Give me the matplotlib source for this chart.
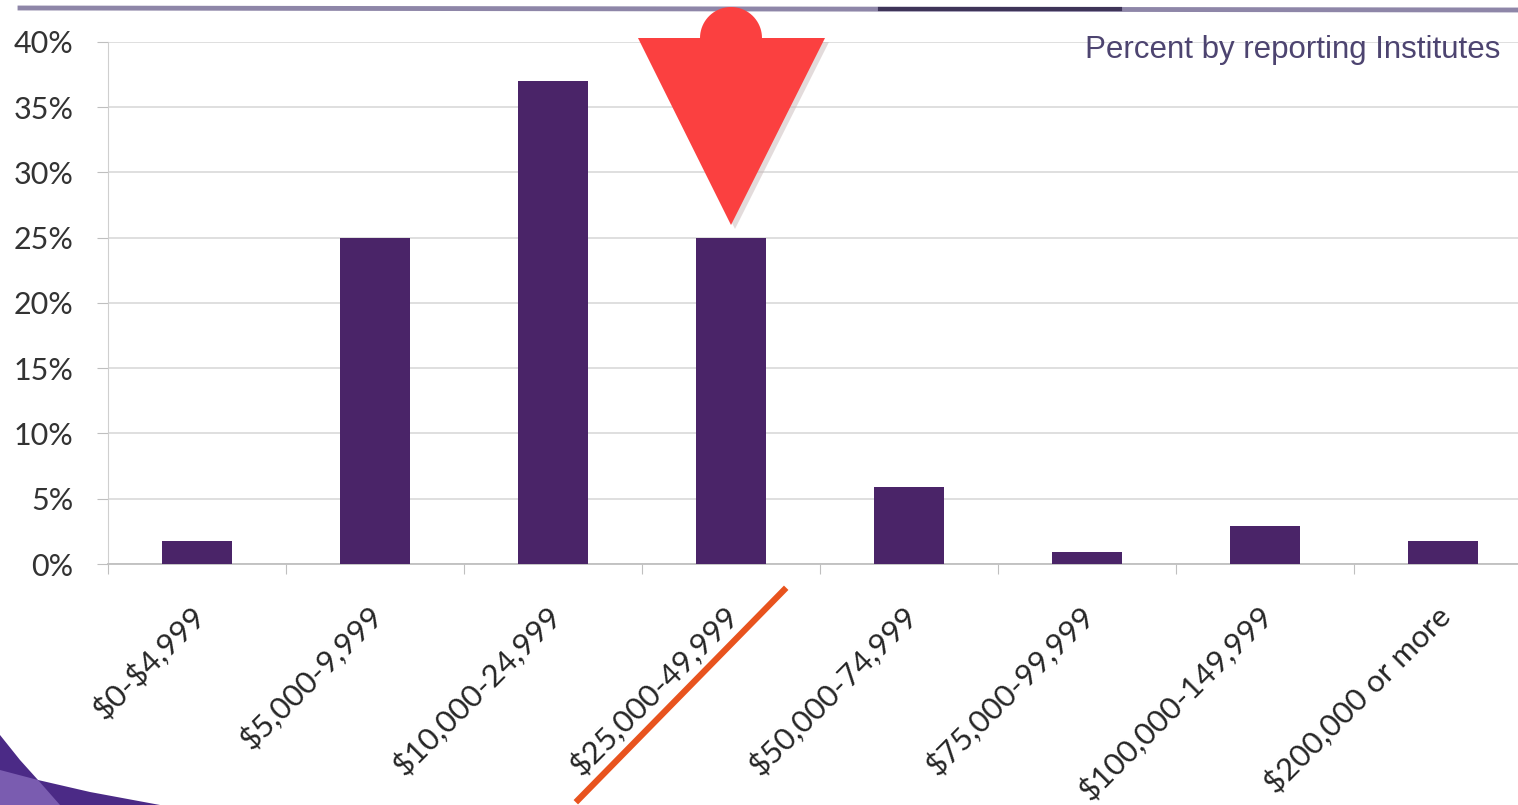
import numpy as np
import matplotlib
matplotlib.use('Agg')
import matplotlib.pyplot as plt
from matplotlib.patches import Polygon
from matplotlib.lines import Line2D
import matplotlib.transforms as mtransforms

# Данные
categories = ['$0-$4,999', '$5,000-9,999', '$10,000-24,999', '$25,000-49,999',
              '$50,000-74,999', '$75,000-99,999', '$100,000-149,999', '$200,000 or more']
percents = [1.8, 25.0, 37.0, 25.0, 5.9, 0.9, 2.9, 1.8]
y_ticks = [0, 5, 10, 15, 20, 25, 30, 35, 40]

W, H = 1518, 805
fig = plt.figure(figsize=(W / 100, H / 100), dpi=100)


def px(x, y):
    """Пиксели (от верхнего левого угла) -> доли фигуры."""
    return x / W, 1 - y / H


# Оси: левый край 108 px, шаг категории 178 px, 0% на 564 px, 40% на 42 px
ax = fig.add_axes([108 / W, (H - 564) / H, 8 * 178 / W, (564 - 42) / H])
x = np.arange(len(categories))
ax.bar(x, percents, width=0.39, color='#4a2468', zorder=3)
ax.set_xlim(-0.5, len(categories) - 0.5)
ax.set_ylim(0, 40)

ax.set_yticks(y_ticks)
ax.set_yticklabels([f'{v}%' for v in y_ticks], fontsize=22, color='#333333',
                   family='Lato')
ax.yaxis.grid(True, color='#d9d9d9', linewidth=1.2, zorder=0)
ax.tick_params(axis='y', length=8, color='#bfbfbf', pad=17)

ax.set_xticks(np.arange(-0.5, len(categories) - 0.5, 1.0))
ax.set_xticklabels([])
ax.tick_params(axis='x', length=7, color='#bfbfbf')
offset = mtransforms.ScaledTranslation(0.03, -0.47, fig.dpi_scale_trans)
for i, lab in enumerate(categories):
    ax.text(i, 0, lab, rotation=45, ha='right', va='center',
            rotation_mode='anchor', fontsize=22.5, color='#262626', family='Lato',
            transform=ax.transData + offset, parse_math=False)

for side in ['top', 'right']:
    ax.spines[side].set_visible(False)
ax.spines['left'].set_color('#cfcfcf')
ax.spines['bottom'].set_color('#bfbfbf')
ax.spines['bottom'].set_linewidth(1.3)

ax.text(px(1500, 0)[0], px(0, 50)[1], 'Percent by reporting Institutes',
        transform=fig.transFigure, ha='right', va='center', fontsize=22.5,
        color='#4d4470', family='Liberation Sans')

# Линия сверху
fig.add_artist(Line2D([px(20, 8)[0], 1], [px(20, 8)[1], px(1518, 10)[1]],
                      transform=fig.transFigure, color='#8e86a8', linewidth=3.5))
fig.add_artist(Line2D([px(880, 9)[0], px(1120, 9)[0]], [px(880, 9)[1], px(1120, 9)[1]],
                      transform=fig.transFigure, color='#3e3458', linewidth=3))

# Красная стрелка (с лёгкой тенью)
for dx, dy, col, z in [(4, 4, '#c9b8b8', 4), (0, 0, '#fb4040', 5)]:
    tri = [px(638 + dx, 38 + dy), px(825 + dx, 38 + dy), px(731 + dx, 225 + dy)]
    fig.add_artist(Polygon(tri, closed=True, transform=fig.transFigure,
                           facecolor=col, edgecolor='none', zorder=z, alpha=1 if z == 5 else 0.5))
fig.add_artist(Polygon([px(731 + 31 * np.cos(t), 38 - 31 * np.sin(t))
                        for t in np.linspace(0, np.pi, 40)],
                       closed=True, transform=fig.transFigure,
                       facecolor='#fb4040', edgecolor='none', zorder=5))

# Оранжевая черта
fig.add_artist(Line2D([px(578, 800)[0], px(784, 590)[0]],
                      [px(578, 800)[1], px(784, 590)[1]],
                      transform=fig.transFigure, color='#e8531e', linewidth=4.5, zorder=6))

# Декоративная фиолетовая волна внизу слева
fig.add_artist(Polygon([px(0, 735), px(20, 760), px(38, 780), px(90, 792),
                        px(160, 805), px(0, 805)],
                       closed=True, transform=fig.transFigure,
                       facecolor='#4b2a86', edgecolor='none'))
fig.add_artist(Polygon([px(0, 770), px(38, 780), px(60, 805), px(0, 805)],
                       closed=True, transform=fig.transFigure,
                       facecolor='#7a5cb0', edgecolor='none'))

plt.savefig('out.png', dpi=100)
plt.close()
